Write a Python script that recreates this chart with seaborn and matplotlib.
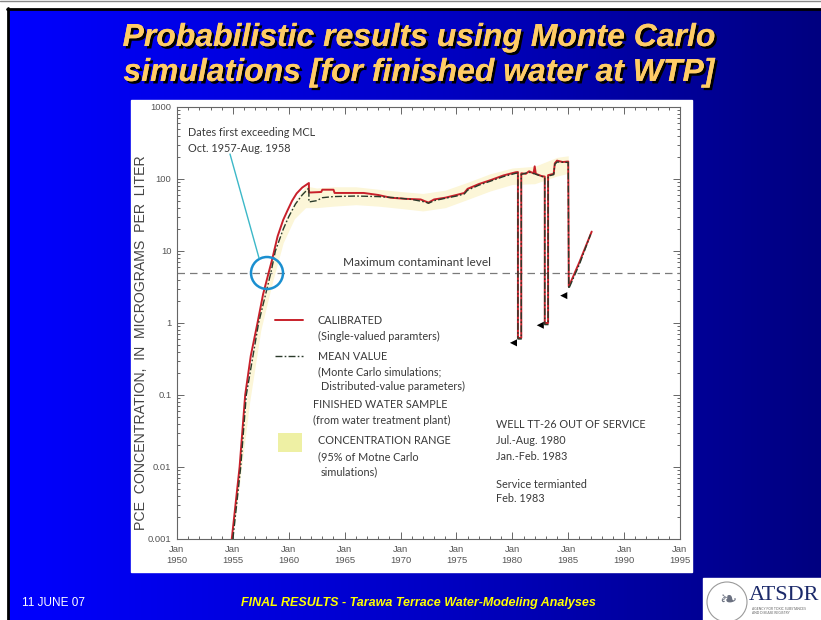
import numpy as np
import matplotlib
matplotlib.use("Agg")
import matplotlib.pyplot as plt
import matplotlib.patheffects as pe
from matplotlib.colors import LinearSegmentedColormap
from matplotlib.patches import Rectangle, Circle
from matplotlib.ticker import MultipleLocator, LogLocator, NullFormatter
import seaborn as sns

# ---- data ----
cal_years = [1954.9, 1955.6, 1956.1, 1956.6, 1957.2, 1957.7, 1958.2, 1958.5, 1959.0,
             1959.5, 1959.9, 1960.3, 1960.7, 1961.2, 1961.8, 1961.8, 1962.0, 1962.9,
             1963.0, 1964.0, 1964.1, 1966.7, 1968.0, 1969.1, 1970.5, 1971.8, 1972.2,
             1972.5, 1973.0, 1974.0, 1975.0, 1975.7, 1976.0, 1977.0, 1978.1, 1979.2,
             1980.3, 1980.5, 1980.5, 1980.8, 1980.8, 1981.2, 1981.5, 1981.9, 1982.0,
             1982.1, 1982.6, 1982.9, 1982.9, 1983.2, 1983.2, 1983.7, 1983.8, 1984.0,
             1984.5, 1985.0, 1985.05, 1986.0, 1987.1]
cal_values = [0.001, 0.01, 0.1, 0.35, 1.0, 2.5, 5.0, 7.5, 16,
              27, 37, 50, 63, 76, 88, 65, 65, 66,
              71, 71, 64, 64, 60, 55, 53, 52, 49,
              47, 52, 55, 60, 64, 73, 85, 97, 112,
              124, 125, 0.62, 0.62, 120, 118, 128, 120, 150,
              118, 110, 108, 1.0, 1.0, 113, 118, 165, 180,
              172, 175, 3.2, 7.0, 18.6]

mean_years = [1955.0, 1955.7, 1956.2, 1957.3, 1958.4, 1958.8, 1959.5, 1960.0, 1960.6,
              1961.2, 1961.8, 1961.8, 1962.5, 1963.0, 1964.0, 1966.0, 1968.0, 1969.5,
              1971.0, 1972.2, 1972.5, 1973.0, 1974.0, 1975.0, 1975.7, 1976.0, 1977.0,
              1978.1, 1979.2, 1980.3, 1980.5, 1980.5, 1980.8, 1980.8, 1981.5, 1982.0,
              1982.9, 1982.9, 1983.2, 1983.2, 1983.7, 1983.8, 1984.0, 1985.0, 1985.05,
              1986.0, 1987.0]
mean_values = [0.001, 0.01, 0.1, 1.0, 5.0, 10, 20, 30, 45,
               60, 75, 48, 50, 55, 57, 58, 57, 55,
               52, 48, 46, 50, 54, 58, 62, 70, 82,
               94, 108, 120, 121, 0.6, 0.6, 116, 124, 118,
               105, 0.95, 0.95, 110, 115, 160, 172, 170, 3.0,
               6.5, 17.0]

band_years = [1955.0, 1955.6, 1956.5, 1957.5, 1958.5, 1959.5, 1960.5, 1961.5, 1962.5,
              1964.0, 1966.0, 1968.0, 1970.0, 1972.0, 1974.0, 1976.0, 1978.0, 1980.0,
              1982.0, 1984.0, 1985.0]
band_lower = [0.001, 0.006, 0.08, 0.8, 3.5, 13, 28, 40, 40,
              42, 44, 42, 39, 36, 40, 52, 68, 84,
              86, 110, 120]
band_upper = [0.001, 0.014, 0.22, 1.8, 7.5, 24, 48, 80, 75,
              78, 78, 72, 67, 63, 70, 90, 118, 142,
              150, 200, 210]

sample_years = [1980.1, 1982.5, 1984.6]
sample_values = [0.53, 0.93, 2.4]

mcl = 5
x_tick_years = [1950, 1955, 1960, 1965, 1970, 1975, 1980, 1985, 1990, 1995]
y_tick_values = [0.001, 0.01, 0.1, 1, 10, 100, 1000]
y_tick_labels = ["0.001", "0.01", "0.1", "1", "10", "100", "1000"]

title_lines = ["Probabilistic results using Monte Carlo",
               "simulations [for finished water at WTP]"]

# ---- figure ----
sns.set_style("ticks")
plt.rcParams["font.family"] = ["Lato", "DejaVu Sans"]

W, H = 821, 620
fig = plt.figure(figsize=(W / 100, H / 100), dpi=100)

# slide background (pixel coordinates)
bg = fig.add_axes([0, 0, 1, 1], zorder=0)
bg.set_xlim(0, W)
bg.set_ylim(H, 0)
bg.axis("off")
cmap = LinearSegmentedColormap.from_list("slide", ["#0000ff", "#0000c8", "#000080"])
bg.imshow(np.linspace(0, 1, 256)[None, :], cmap=cmap, aspect="auto",
          extent=[8, W, H, 9], zorder=0)
bg.add_patch(Rectangle((0, 0), W, 8, color="white", zorder=1))
bg.add_patch(Rectangle((0, 0), 7, H, color="white", zorder=1))
bg.plot([7, W], [8.5, 8.5], color="black", lw=2, zorder=2)
bg.plot([7.5, 7.5], [8, H], color="black", lw=2, zorder=2)
bg.plot([0, W], [0.5, 0.5], color="#888888", lw=1, zorder=2)
bg.add_patch(Rectangle((131, 100), 561, 472, color="white", zorder=1))

shadow = [pe.withSimplePatchShadow(offset=(1.8, -1.8), shadow_rgbFace="black", alpha=1.0),
          pe.Normal()]
for i, line in enumerate(title_lines):
    bg.text(419, 38 + 35 * i, line, ha="center", va="center", fontsize=23,
            fontweight="bold", fontstyle="italic", color="#ffcc66",
            family=["Liberation Sans", "DejaVu Sans"], path_effects=shadow, zorder=3)

bg.text(22, 603, "11 JUNE 07", ha="left", va="center", fontsize=8.5, color="white",
        family=["Liberation Sans Narrow", "Liberation Sans"], zorder=3)
bg.text(418, 603, "FINAL RESULTS - Tarawa Terrace Water-Modeling Analyses", ha="center",
        va="center", fontsize=9, color="#ffff00", fontweight="bold", fontstyle="italic",
        family=["Liberation Sans Narrow", "Liberation Sans"], zorder=3)

# logo box
bg.add_patch(Rectangle((703, 578), W - 703, H - 578, color="white", zorder=2))
bg.add_patch(Circle((727, 602), 20, fill=False, ec="#9a9a9a", lw=0.8, zorder=3))
bg.text(728, 601, "\u2767", ha="center", va="center", fontsize=15, color="#6a7080",
        family=["DejaVu Sans"], zorder=3)
bg.text(749, 596, "ATSDR", ha="left", va="center", fontsize=16, color="#1c2a6a",
        family=["Liberation Serif", "DejaVu Serif"], zorder=3)
bg.text(752, 611, "AGENCY FOR TOXIC SUBSTANCES\nAND DISEASE REGISTRY", ha="left",
        va="center", fontsize=2.4, color="#666666", linespacing=1.1, zorder=3)

# ---- chart ----
L, R, T, B = 177, 680, 107, 539
ax = fig.add_axes([L / W, 1 - B / H, (R - L) / W, (B - T) / H], zorder=2)
ax.set_facecolor("none")
ax.set_yscale("log")

ax.fill_between(band_years, band_lower, band_upper, color="#fcf6d8", lw=0, zorder=1)
ax.axhline(mcl, color="#7a7a7a", lw=0.9, ls=(0, (6, 4)), zorder=2)
sns.lineplot(x=cal_years, y=cal_values, ax=ax, sort=False, estimator=None,
             color="#c8202a", lw=1.4, zorder=3)
sns.lineplot(x=mean_years, y=mean_values, ax=ax, sort=False, estimator=None,
             color="#2a3a2a", lw=1.0, linestyle=(0, (5, 1.6, 1.2, 1.6)), zorder=4)
sns.scatterplot(x=sample_years, y=sample_values, ax=ax, marker="<", color="black",
                s=26, edgecolor="none", zorder=5)

ax.set_xlim(1950, 1995)
ax.set_ylim(0.001, 1000)
ax.set_xticks(x_tick_years, labels=[f"Jan\n{y}" for y in x_tick_years])
ax.xaxis.set_minor_locator(MultipleLocator(1))
ax.set_yticks(y_tick_values, labels=y_tick_labels)
ax.yaxis.set_minor_locator(LogLocator(base=10, subs=np.arange(2, 10)))
ax.yaxis.set_minor_formatter(NullFormatter())
ax.tick_params(which="both", direction="in", top=True, right=True, colors="#666666",
               labelcolor="#555555", labelsize=6.8, width=0.7)
ax.tick_params(which="major", length=5, pad=4)
ax.tick_params(which="minor", length=2.5)
for lab in ax.get_xticklabels() + ax.get_yticklabels():
    lab.set_family(["Liberation Sans", "DejaVu Sans"])
for lab in ax.get_xticklabels():
    lab.set_linespacing(1.4)
for sp in ax.spines.values():
    sp.set_color("#666666")
    sp.set_linewidth(0.8)
ax.set_xlabel("")
ax.set_ylabel("")

# ---- annotations (overlay in pixel coordinates) ----
ov = fig.add_axes([0, 0, 1, 1], zorder=3)
ov.set_xlim(0, W)
ov.set_ylim(H, 0)
ov.axis("off")

txt = dict(fontsize=7.8, color="#3a3a3a", va="center", ha="left")
ov.text(141, 343, "PCE  CONCENTRATION,  IN  MICROGRAMS  PER  LITER", rotation=90,
        ha="center", va="center", fontsize=10.2, color="#444444",
        family=["Liberation Sans", "DejaVu Sans"])

ov.text(188, 133, "Dates first exceeding MCL", **txt)
ov.text(188, 149, "Oct. 1957-Aug. 1958", **txt)
ov.plot([230, 259], [154, 258], color="#3cb8c8", lw=1)
ov.add_patch(Circle((267, 273), 16, fill=False, ec="#1a8fd0", lw=1.8))
ov.text(343, 263, "Maximum contaminant level", fontsize=8.6, color="#3a3a3a",
        va="center", ha="left")

ov.plot([275, 303], [320, 320], color="#c8202a", lw=1.4)
ov.text(318, 320, "CALIBRATED", **txt)
ov.text(318, 336, "(Single-valued paramters)", **txt)
ov.plot([275, 303], [356, 356], color="#2a3a2a", lw=1.0, ls=(0, (5, 1.6, 1.2, 1.6)))
ov.text(318, 356, "MEAN VALUE", **txt)
ov.text(318, 372, "(Monte Carlo simulations;", **txt)
ov.text(321, 386, "Distributed-value parameters)", **txt)
ov.text(313, 404, "FINISHED WATER SAMPLE", **txt)
ov.text(313, 420, "(from water treatment plant)", **txt)
ov.add_patch(Rectangle((278, 433), 24, 19, color="#eef0a4", lw=0))
ov.text(318, 441, "CONCENTRATION RANGE", **txt)
ov.text(318, 457, "(95% of Motne Carlo", **txt)
ov.text(321, 472, "simulations)", **txt)

ov.text(496, 425, "WELL TT-26 OUT OF SERVICE", **txt)
ov.text(496, 441, "Jul.-Aug. 1980", **txt)
ov.text(496, 457, "Jan.-Feb. 1983", **txt)
ov.text(496, 484, "Service termianted", **txt)
ov.text(496, 499, "Feb. 1983", **txt)

fig.savefig("out.png", dpi=100)
